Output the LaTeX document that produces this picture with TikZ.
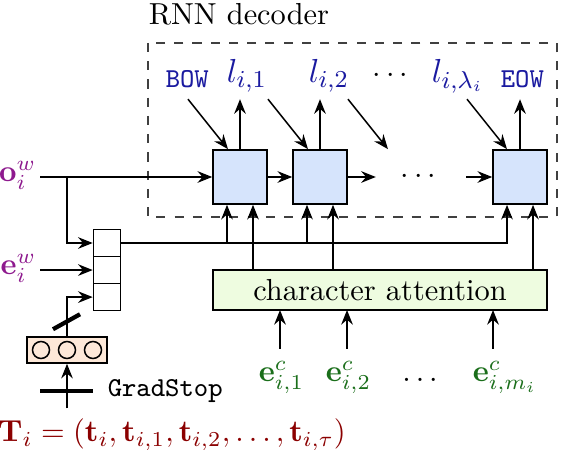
\documentclass[tikz,border=0pt]{standalone}
\usepackage{amsmath}
\usetikzlibrary{arrows.meta, positioning, calc}

\definecolor{wordcol}{RGB}{142,26,142}
\definecolor{lettcol}{RGB}{26,26,160}
\definecolor{charcol}{RGB}{26,110,26}
\definecolor{tagcol}{RGB}{139,0,0}
\definecolor{cellfill}{RGB}{214,228,252}
\definecolor{attfill}{RGB}{238,252,224}
\definecolor{fffill}{RGB}{253,232,216}
\newcommand{\labsize}{\fontsize{11}{13}\selectfont}

\begin{document}
\begin{tikzpicture}[x=0.329pt, y=-0.329pt, node distance=26.32pt, on grid,
        line width=0.5pt,
        >={Stealth[open,length=4.8pt,width=3.8pt,inset=1.6pt,line width=0.75pt]},
        cell/.style={draw, fill=cellfill, minimum size=17.8pt, inner sep=0pt},
        slot/.style={draw, minimum size=8.9pt, inner sep=0pt},
        unit/.style={draw, circle, minimum size=5.6pt, inner sep=0pt},
        stopbar/.style={line width=1.4pt},
        outlab/.style={text=lettcol, inner sep=0pt, font=\labsize},
        inlab/.style={text=wordcol, inner xsep=1pt},
        charlab/.style={text=charcol, inner sep=0pt}]
        \useasboundingbox (0,0) rectangle (562,450);

        % decoder frame
        \draw[black!75, dash pattern=on 3pt off 3pt] (148,43) rectangle (557,217);
        \node[anchor=base west, inner sep=0pt] (title) at (148,25) {RNN decoder};

        % recurrent cells
        \node[cell] (c1) at (240,177) {};
        \node[cell, right=of c1] (c2) {};
        \node[cell] (c3) at (520,177) {};
        \node (hdots) at (421,177) {$\cdots$};

        % outputs
        \node[outlab, anchor=base west] (bow) at (165,88) {\small\texttt{BOW}};
        \node[outlab, anchor=base west] (l1) at (226,83) {$l_{i,1}$};
        \node[outlab, anchor=base west] (l2) at (308,83) {$l_{i,2}$};
        \node[inner sep=0pt, anchor=base] (tdots) at (393,83) {$\cdots$};
        \node[outlab, anchor=base west] (llam) at (431,83) {$l_{i,\lambda_i}$};
        \node[outlab, anchor=base west] (eow) at (500,88) {\small\texttt{EOW}};

        \draw[->] (c1.north) -- ++(0,-50);
        \draw[->] (c2.north) -- ++(0,-50);
        \draw[->] (c3.north) -- ++(0,-50);
        \draw[->] (c1.north) ++(-52,-50) -- ++(40,50);
        \draw[->] (c2.north) ++(-52,-50) -- ++(40,50);
        \draw[->] (c2.north) ++(28,-50) -- ++(40,50);
        \draw[->] (c3.north) ++(-53,-50) -- ++(40,50);

        \draw[->] (c1) -- (c2);
        \draw[->] (c2.east) -- ++(28,0);
        \draw[->] (c3.west) ++(-26,0) -- (c3.west);

        % word side inputs
        \node[inlab, anchor=base east] (ow) at (40,182) {$\mathbf{o}_i^w$};
        \node[inlab, anchor=base east] (ew) at (40,275) {$\mathbf{e}_i^w$};
        \node[slot] (s1) at (107,243) {};
        \node[slot, below=8.9pt of s1] (s2) {};
        \node[slot, below=8.9pt of s2] (s3) {};

        \node[draw, fill=fffill, minimum width=26.3pt, minimum height=8.55pt,
              inner sep=0pt] (ff) at (67,350) {};
        \node[unit] (u2) at (ff) {};
        \node[unit, left=8.55pt of u2] (u1) {};
        \node[unit, right=8.55pt of u2] (u3) {};

        \node[text=tagcol, anchor=base] (ti) at (172,442)
             {$\mathbf{T}_i = (\mathbf{t}_i, \mathbf{t}_{i,1}, \mathbf{t}_{i,2}, \ldots, \mathbf{t}_{i,\tau})$};

        \draw[->] (ow.east |- c1) -- (c1.west);
        \draw[->] (ff |- c1) |- (s1.west);
        \draw[->] (ew.east |- s2) -- (s2.west);
        \draw[->] (ff.north) |- (s3.west);
        \draw[stopbar] (ff.north) ++(-14,-7) -- ++(27,-15);
        \draw[->] (ff |- ti.north) -- (ff.south);
        \draw[stopbar] (ff.south) ++(-27,27) -- ++(53,0) coordinate (gsr);
        \node[anchor=west, inner sep=0pt] (gs) at ($(gsr)+(14,0)$) {\small\texttt{GradStop}};

        % character attention
        \node[draw, fill=attfill, minimum width=109.9pt, minimum height=13.2pt,
              inner sep=0pt] (att) at (380,290) {character attention};

        \foreach \c in {c1,c2,c3} {
                \coordinate (\c a) at ($(\c.south)+(-13,0)$);
                \coordinate (\c b) at ($(\c.south)+(13,0)$);
        }
        \draw[->] (s1.east) -| (c3a);
        \draw[->] (c1a |- s1) -- (c1a);
        \draw[->] (c2a |- s1) -- (c2a);
        \draw[->] (c1b |- att.north) -- (c1b);
        \draw[->] (c2b |- att.north) -- (c2b);
        \draw[->] (c3b |- att.north) -- (c3b);

        \node[charlab, anchor=base west] (e1) at (258,382) {$\mathbf{e}^c_{i,1}$};
        \node[charlab, anchor=base west] (e2) at (325,382) {$\mathbf{e}^c_{i,2}$};
        \node[inner sep=0pt, anchor=base] (edots) at (420,382) {$\ldots$};
        \node[charlab, anchor=base west] (em) at (472,382) {$\mathbf{e}^c_{i,m_i}$};
        \draw[->] (e1.base west) ++(22,-33) -- ++(0,-39);
        \draw[->] (e2.base west) ++(22,-33) -- ++(0,-39);
        \draw[->] (em.base west) ++(21,-33) -- ++(0,-39);
\end{tikzpicture}
\end{document}
